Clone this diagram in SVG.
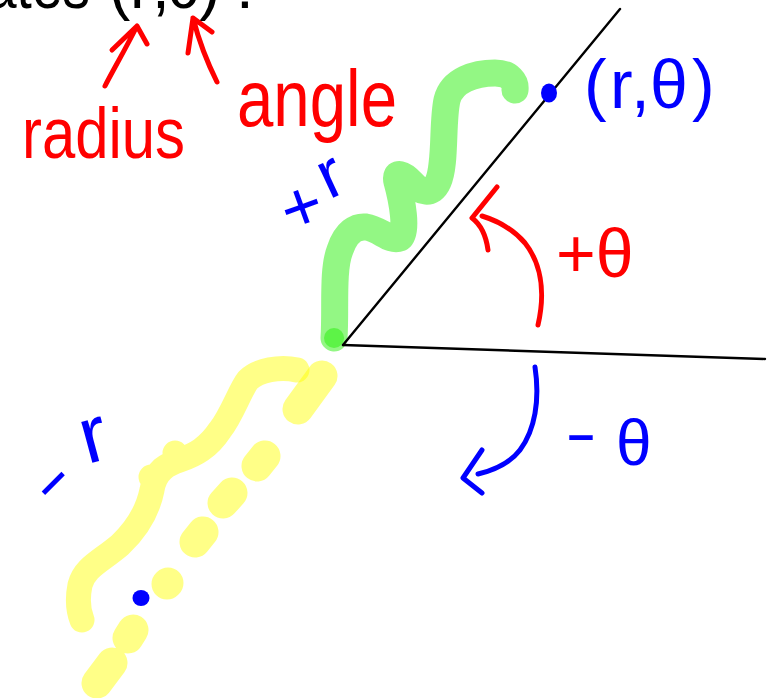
<svg xmlns="http://www.w3.org/2000/svg" width="776" height="698" viewBox="0 0 776 698">
  <style>
    .hl-y { fill: none; stroke: #ffff00; stroke-opacity: 0.47; stroke-linecap: round; stroke-linejoin: round; }
    .hl-g { fill: none; stroke: #28f00a; stroke-opacity: 0.5; stroke-linecap: round; stroke-linejoin: round; }
    .ink { fill: none; stroke-width: 5; stroke-linecap: round; stroke-linejoin: round; }
    .red { stroke: #ff0000; }
    .blue { stroke: #0000ff; }
    .axis { fill: none; stroke: #000000; stroke-width: 2.4; stroke-linecap: round; }
    .lbl { font-family: "Liberation Sans", "DejaVu Sans", sans-serif; }
    .lr { fill: #ff0000; }
    .lb { fill: #0000ff; }
  </style>

  <rect x="0" y="0" width="776" height="698" fill="#ffffff"/>

  <!-- heading (cropped) -->
  <g id="heading">
    <text class="lbl" font-size="64" fill="#000000" x="-14" y="8" textLength="104" lengthAdjust="spacingAndGlyphs">ates</text>
    <text class="lbl" font-size="64" fill="#000000" y="8" x="109 130 152 166 199 236">(r,θ):</text>
  </g>

  <!-- highlighter strokes -->
  <g id="neg-r-highlight">
    <path class="hl-y" stroke-width="25" d="M297,370 C280,366 258,370 248,380 C240,390 232,415 220,430 C208,448 195,455 180,460 C168,464 155,470 152,490 C148,510 138,528 120,545 C100,562 85,567 80,585 C77,600 78,610 82,620 M175,453 l0.1,0 M151,477 l0.1,0"/>
    <path class="hl-y" stroke-width="31" d="M322,376 L298,409 M265,456 L257,466 M232,493 L223,503 M203,532 L195,542 M168,583 L167,584 M133,630 L128,638 M112,663 L97,683"/>
  </g>
  <g id="pos-r-highlight">
    <path class="hl-g" stroke-width="27" d="M334,338 C336,310 332,270 340,250 C346,232 356,226 366,227 C380,229 390,242 400,238 C408,232 402,200 397,182 C394,170 404,174 412,183 C420,192 432,196 438,182 C446,165 442,122 447,100 C452,80 475,73 495,73 C510,73 516,82 515,90"/>
    <path class="hl-g" stroke-width="20" d="M334,338 l0.1,0"/>
  </g>

  <!-- axes / ray -->
  <g id="axes">
    <line class="axis" x1="343" y1="345" x2="765" y2="359"/>
    <line class="axis" x1="343" y1="345" x2="620" y2="9"/>
  </g>

  <!-- points -->
  <g id="point-pos">
    <ellipse cx="549" cy="93" rx="8" ry="9.5" fill="#0000ff"/>
  </g>
  <g id="point-neg">
    <ellipse cx="141" cy="598" rx="8.5" ry="8" fill="#0000ff"/>
  </g>

  <!-- connectors / arrows -->
  <g id="connectors">
    <path class="ink red" d="M105,86 C112,72 125,50 137,26 M112,50 L137,26 L147,44"/>
    <path class="ink red" d="M217,82 C210,68 200,45 193,18 M188,53 L193,18 L212,32"/>
    <path class="ink red" d="M538,325 C546,290 540,262 525,243 C512,228 495,220 482,216 M497,187 L472,218 C480,224 486,235 488,250"/>
    <path class="ink blue" d="M535,367 C540,400 535,430 520,450 C510,463 495,470 478,474 M482,450 L463,478 L482,493"/>
  </g>

  <!-- labels -->
  <g id="label-radius">
    <text class="lbl lr" x="22" y="158" font-size="72" textLength="163" lengthAdjust="spacingAndGlyphs">radius</text>
  </g>
  <g id="label-angle">
    <text class="lbl lr" x="237" y="126" font-size="80" textLength="160" lengthAdjust="spacingAndGlyphs">angle</text>
  </g>
  <g id="label-point">
    <text class="lbl lb" font-size="68" y="108" x="584 610 631 650 692">(r,θ)</text>
  </g>
  <g id="label-plus-r">
    <text class="lbl lb" font-size="70" x="281" y="230" transform="rotate(-20 302 207)">+</text>
    <text class="lbl lb" font-size="68" x="320" y="197" transform="rotate(-25 331 178)">r</text>
  </g>
  <g id="label-plus-theta">
    <text class="lbl lr" font-size="68" x="556" y="277">+θ</text>
  </g>
  <g id="label-minus-theta">
    <text class="lbl lb" font-size="62" x="565" y="454" textLength="32" lengthAdjust="spacingAndGlyphs">-</text>
    <text class="lbl lb" font-size="64" x="616" y="465">θ</text>
  </g>
  <g id="label-minus-r">
    <text class="lbl lb" font-size="62" x="33" y="502" textLength="38" lengthAdjust="spacingAndGlyphs" transform="rotate(-45 50 483)">-</text>
    <text class="lbl lb" font-size="80" x="81" y="462" transform="rotate(-15 93 440)">r</text>
  </g>
</svg>
